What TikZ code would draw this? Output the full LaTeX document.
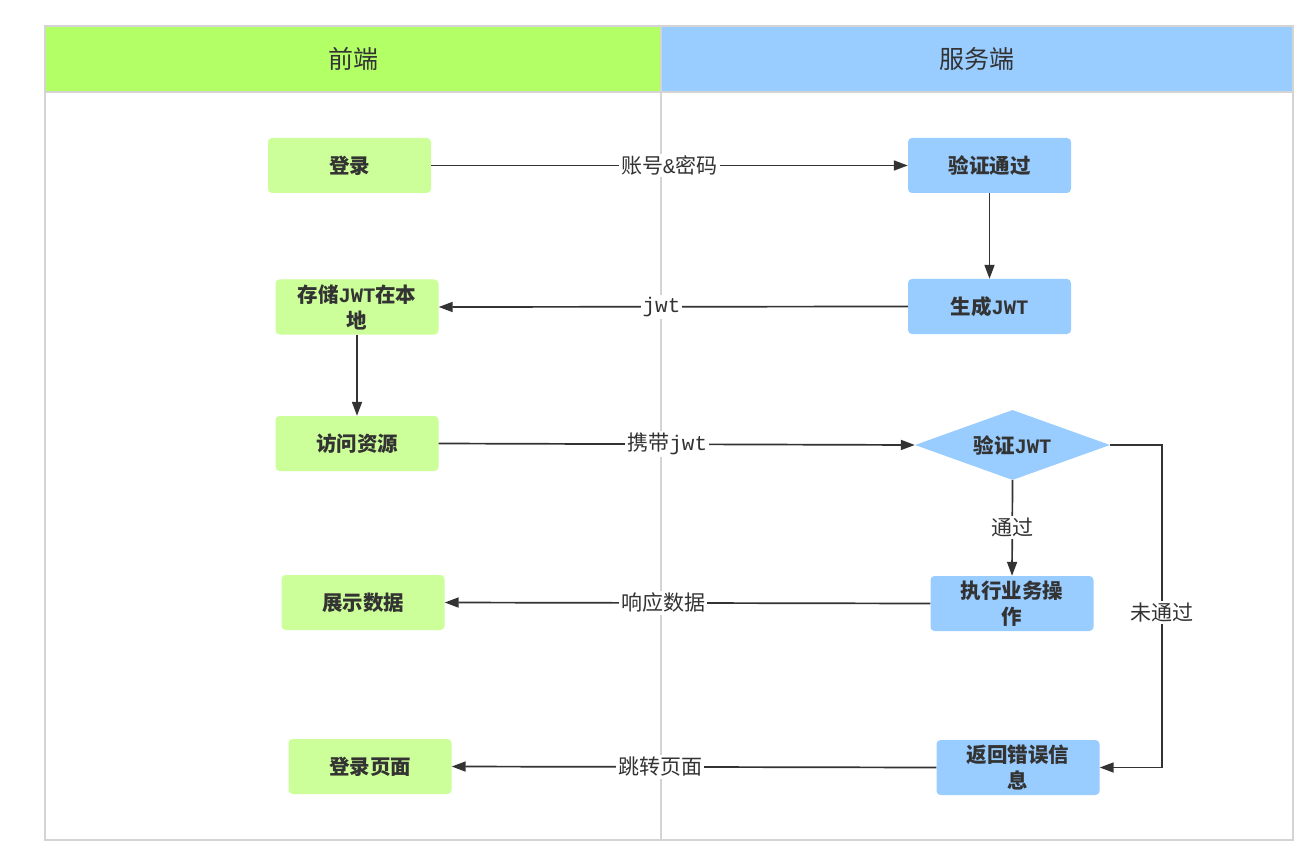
\documentclass[tikz,border=0pt]{standalone}
\usepackage{fontspec}
\setmainfont{Noto Sans CJK SC}
\newfontfamily\lat{Liberation Mono}
\usetikzlibrary{arrows.meta,shapes.geometric}
\definecolor{hdrgreen}{HTML}{B3FF66}
\definecolor{hdrblue}{HTML}{99CCFF}
\definecolor{boxgreen}{HTML}{CCFF99}
\definecolor{boxblue}{HTML}{99CCFF}
\definecolor{txt}{HTML}{333333}
\definecolor{framegray}{HTML}{D4D4D4}
\newcommand{\m}[1]{{\lat #1}}
\tikzset{
  base/.style={inner sep=0pt, text=txt, align=center, font=\fontsize{20.5}{26}\selectfont\bfseries},
  gbox/.style={base, fill=boxgreen, rounded corners=4pt, minimum width=163pt, minimum height=55pt},
  bbox/.style={base, fill=boxblue, rounded corners=4pt, minimum width=163pt, minimum height=55pt},
  dec/.style={base, diamond, fill=boxblue, minimum width=195pt, minimum height=70pt, aspect=2.8},
  hdr/.style={inner sep=0pt, text=txt, font=\fontsize{25}{28}\selectfont},
  conn/.style={draw=txt, line width=1.7pt, -{Triangle[length=14pt,width=10pt]}},
  lbl/.style={fill=white, inner sep=2pt, text=txt, font=\fontsize{21}{24}\selectfont},
  frame/.style={draw=framegray, line width=1.4pt}
}
\begin{document}
\begin{tikzpicture}[x=1pt,y=-1pt]
\useasboundingbox (0,0) rectangle (1313,858);
\fill[white] (0,0) rectangle (1313,858);
\fill[hdrgreen] (45,26) rectangle (661,92);
\fill[hdrblue] (661,26) rectangle (1293,92);
\draw[frame] (45,26) rectangle (1293,840);
\draw[frame] (45,92) -- (1293,92);
\draw[frame, line width=2pt] (661,26) -- (661,840);
\node[hdr] (hf) at (353,59) {前端};
\node[hdr] (hs) at (977,59) {服务端};

\node[gbox] (login) at (349.5,165.5) {登录};
\node[bbox] (verify) at (989.5,165.5) {验证通过};
\node[bbox] (gen) at (989.5,306.5) {生成\m{JWT}};
\node[gbox] (store) at (357,307) {存储\m{JWT}在本\\地};
\node[gbox] (access) at (357,443.5) {访问资源};
\node[dec] (check) at (1012.5,445) {验证\m{JWT}};
\node[bbox] (exec) at (1012,603.5) {执行业务操\\作};
\node[gbox] (show) at (363,602.5) {展示数据};
\node[gbox] (lpage) at (370,766.5) {登录页面};
\node[bbox] (err) at (1018,767.5) {返回错误信\\息};

\draw[conn] (login.east) -- (verify.west) node[lbl, pos=0.5] {账号\m{\&}密码};
\draw[conn] (verify) -- (gen);
\draw[conn] (gen.west) -- (store.east) node[lbl, pos=0.525] {\m{jwt}};
\draw[conn] (store) -- (access);
\draw[conn] (access.east) -- (check.west) node[lbl, pos=0.48] {携带\m{jwt}};
\draw[conn] (check.south) -- (exec.north) node[lbl, pos=0.49] {通过};
\draw[conn] (exec.west) -- (show.east) node[lbl, pos=0.55] {响应数据};
\coordinate (cr) at (1162,445);
\draw[conn] (check.east) -- (cr) |- (err.east) node[lbl, pos=0.26] {未通过};
\draw[conn] (err.west) -- (lpage.east) node[lbl, pos=0.57] {跳转页面};
\end{tikzpicture}
\end{document}
